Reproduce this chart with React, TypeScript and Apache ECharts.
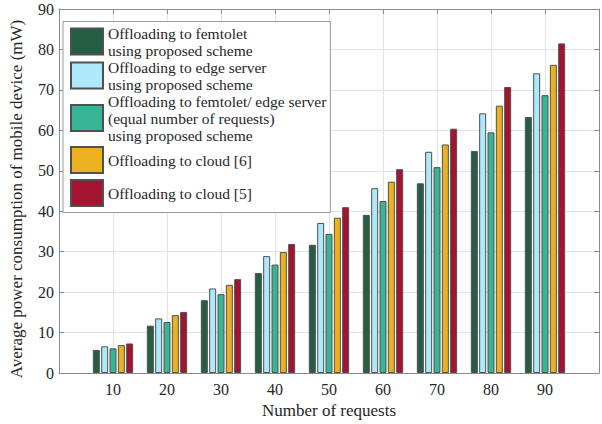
import React, { useEffect, useRef } from "react";
import * as echarts from "echarts";

const requests = [10, 20, 30, 40, 50, 60, 70, 80, 90];
const femtolet = [5.7, 11.7, 18.0, 24.7, 31.7, 39.1, 46.9, 54.9, 63.3];
const edgeServer = [6.6, 13.5, 20.9, 28.9, 37.1, 45.7, 54.7, 64.2, 74.1];
const femtoletEdge = [6.1, 12.6, 19.5, 26.8, 34.4, 42.5, 50.9, 59.5, 68.7];
const cloud6 = [6.9, 14.3, 21.8, 29.9, 38.4, 47.3, 56.5, 66.1, 76.2];
const cloud5 = [7.3, 15.1, 23.2, 31.9, 41.0, 50.4, 60.4, 70.7, 81.5];

const seriesNames = [
  "Offloading to femtolet\nusing proposed scheme",
  "Offloading to edge server\nusing proposed scheme",
  "Offloading to femtolet/ edge server\n(equal number of requests)\nusing proposed scheme",
  "Offloading to cloud [6]",
  "Offloading to cloud [5]",
];
const seriesValues = [femtolet, edgeServer, femtoletEdge, cloud6, cloud5];
const colors = ["#265e45", "#aee8fb", "#38b596", "#edb120", "#a2142f"];

const FONT = "Liberation Serif";
const TEXT = "#262626";
const AXIS = "#8a8a8a";
const GRID = "#e3e3e3";

export default function App() {
  const ref = useRef<HTMLDivElement>(null);
  useEffect(() => {
    if (!ref.current) return;
    const chart = echarts.init(ref.current, undefined, { renderer: "svg" });
    const series = seriesValues.map((vals, i) => ({
      name: seriesNames[i],
      type: "bar",
      xAxisIndex: 0,
      yAxisIndex: 0,
      barWidth: 7,
      barGap: "19%",
      itemStyle: { color: colors[i], borderColor: "#505050", borderWidth: 1 },
      data: requests.map((x, j) => [x, vals[j]]),
    }));
    chart.setOption({
      animation: false,
      textStyle: { fontFamily: FONT, color: TEXT },
      grid: { left: 53.5, right: 1, top: 9, bottom: 51, containLabel: false },
      legend: {
        orient: "vertical",
        left: 63,
        top: 21.5,
        itemWidth: 32,
        itemHeight: 26,
        itemGap: 0,
        icon: "rect",
        backgroundColor: "#ffffff",
        borderColor: "#9a9a9a",
        borderWidth: 1,
        padding: [3, 4, 3, 7],
        textStyle: { fontFamily: FONT, fontSize: 15.5, color: TEXT, lineHeight: 17 },
        data: seriesNames.map((n, i) =>
          i >= 3 ? { name: n, textStyle: { lineHeight: 33 } } : { name: n }
        ),
      },
      xAxis: [
        {
          type: "value",
          min: 0,
          max: 100,
          interval: 10,
          name: "Number of requests",
          nameLocation: "middle",
          nameGap: 27,
          nameTextStyle: { fontFamily: FONT, fontSize: 17, color: TEXT },
          axisLine: { show: true, lineStyle: { color: AXIS, width: 1 } },
          axisTick: { show: true, inside: true, length: 5, lineStyle: { color: AXIS } },
          axisLabel: {
            fontFamily: FONT,
            fontSize: 16,
            color: TEXT,
            margin: 8,
            formatter: (v: number) => (v === 0 || v === 100 ? "" : String(v)),
          },
          splitLine: { show: true, lineStyle: { color: GRID, width: 1 } },
        },
        {
          type: "value",
          position: "top",
          min: 0,
          max: 100,
          interval: 10,
          axisLine: { show: true, onZero: false, lineStyle: { color: AXIS, width: 1 } },
          axisTick: { show: true, inside: true, length: 5, lineStyle: { color: AXIS } },
          axisLabel: { show: false },
          splitLine: { show: false },
        },
      ],
      yAxis: [
        {
          type: "value",
          min: 0,
          max: 90,
          interval: 10,
          name: "Average power consumption of mobile device (mW)",
          nameLocation: "middle",
          nameGap: 34,
          nameTextStyle: { fontFamily: FONT, fontSize: 17, color: TEXT, padding: [0, 16, 0, 0] },
          axisLine: { show: true, lineStyle: { color: AXIS, width: 1 } },
          axisTick: { show: true, inside: true, length: 5, lineStyle: { color: AXIS } },
          axisLabel: { fontFamily: FONT, fontSize: 16, color: TEXT, margin: 5 },
          splitLine: { show: true, lineStyle: { color: GRID, width: 1 } },
        },
        {
          type: "value",
          position: "right",
          min: 0,
          max: 90,
          interval: 10,
          axisLine: { show: true, onZero: false, lineStyle: { color: AXIS, width: 1 } },
          axisTick: { show: true, inside: true, length: 5, lineStyle: { color: AXIS } },
          axisLabel: { show: false },
          splitLine: { show: false },
        },
      ],
      series,
    });
    return () => chart.dispose();
  }, []);
  return (
    <div
      ref={ref}
      style={{ position: "absolute", left: 0, top: 0, width: 602, height: 424, background: "#fff" }}
    />
  );
}
